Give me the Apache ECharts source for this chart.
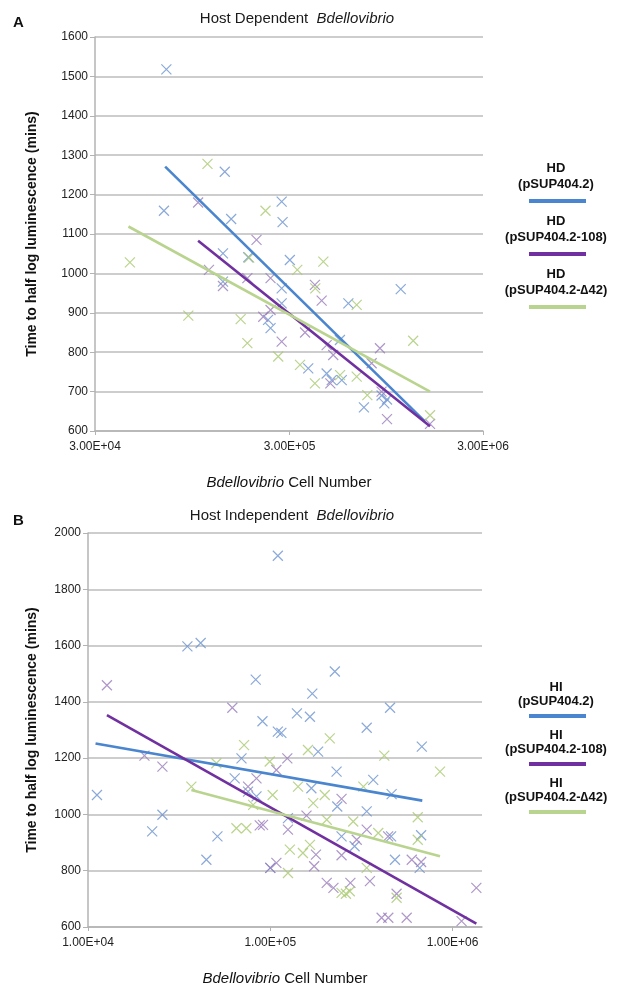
<!DOCTYPE html>
<html>
<head>
<meta charset="utf-8">
<script src="https://cdn.jsdelivr.net/npm/echarts@6/dist/echarts.min.js"></script>
<style>
  html, body { margin: 0; padding: 0; background: #fff; }
  #chart { width: 619px; height: 987px; }
</style>
</head>
<body>
<div id="chart"></div>
<script>
// panel A : host dependent, [cell number, minutes]
var hdBlue = [[7.0e4, 1518], [1.40e5, 1258], [6.8e4, 1159], [1.51e5, 1138], [2.75e5, 1182], [2.78e5, 1130],
  [1.37e5, 1051], [1.37e5, 979], [1.85e5, 1041], [3.03e5, 1034], [2.75e5, 962], [2.75e5, 924], [6.07e5, 924],
  [1.13e6, 960], [2.34e5, 882], [2.41e5, 861], [5.49e5, 831], [3.77e5, 759], [4.69e5, 746], [4.98e5, 729],
  [5.61e5, 729], [7.3e5, 660], [9.0e5, 690], [9.6e5, 680], [9.3e5, 670]];
var hdPurple = [[1.02e5, 1180], [2.04e5, 1085], [1.16e5, 1009], [1.37e5, 968], [1.83e5, 988], [2.41e5, 988],
  [2.21e5, 890], [2.41e5, 907], [2.75e5, 827], [4.08e5, 971], [4.42e5, 931], [3.63e5, 850], [4.69e5, 818],
  [5.07e5, 793], [4.9e5, 721], [8.83e5, 810], [8.0e5, 772], [9.0e5, 700], [9.6e5, 630], [1.6e6, 618]];
var hdGreen = [[1.14e5, 1278], [2.27e5, 1159], [4.54e4, 1028], [9.08e4, 893], [1.69e5, 884], [1.83e5, 823],
  [1.87e5, 1040], [2.64e5, 789], [3.31e5, 1009], [4.51e5, 1030], [4.1e5, 962], [6.7e5, 920], [3.42e5, 768],
  [4.08e5, 721], [5.5e5, 742], [6.7e5, 738], [1.31e6, 829], [7.6e5, 691], [1.6e6, 640]];
var hdBlueFit = [[6.9e4, 1271], [1.5e6, 625]];
var hdPurpleFit = [[1.02e5, 1083], [1.6e6, 612]];
var hdGreenFit = [[4.46e4, 1119], [1.6e6, 700]];

// panel B : host independent
var hiBlue = [[1.10e5, 1919], [3.51e4, 1597], [4.15e4, 1609], [8.32e4, 1479], [9.06e4, 1331], [1.10e5, 1294],
  [1.12e4, 1069], [2.25e4, 940], [2.56e4, 999], [4.46e4, 839], [5.13e4, 922], [6.38e4, 1128], [6.95e4, 1199],
  [7.55e4, 1081], [8.4e4, 1064], [2.26e5, 1508], [1.70e5, 1429], [1.40e5, 1359], [1.65e5, 1347], [1.15e5, 1290],
  [3.38e5, 1308], [4.54e5, 1379], [6.78e5, 1241], [1.83e5, 1223], [2.31e5, 1152], [3.67e5, 1123], [1.68e5, 1093],
  [4.63e5, 1072], [2.33e5, 1028], [3.38e5, 1011], [1.25e5, 987], [4.6e5, 922], [6.72e5, 926], [2.46e5, 922],
  [2.9e5, 887], [4.83e5, 839], [6.6e5, 810], [1.0e5, 810]];
var hiPurple = [[1.27e4, 1459], [6.19e4, 1379], [2.04e4, 1209], [2.56e4, 1170], [7.55e4, 1099], [8.4e4, 1128],
  [8.75e4, 961], [1.0e5, 810], [1.08e5, 828], [1.08e5, 1158], [1.24e5, 1199], [2.46e5, 1055], [1.58e5, 996],
  [9.12e4, 963], [1.25e5, 946], [3.38e5, 946], [4.43e5, 922], [2.98e5, 910], [1.78e5, 857], [2.46e5, 855],
  [5.97e5, 839], [6.72e5, 831], [1.74e5, 816], [3.52e5, 763], [2.04e5, 757], [2.22e5, 739], [2.75e5, 757],
  [4.93e5, 718], [4.08e5, 633], [4.44e5, 633], [5.6e5, 633], [1.12e6, 621], [1.35e6, 739]];
var hiGreen = [[7.18e4, 1246], [3.69e4, 1099], [5.06e4, 1182], [6.52e4, 951], [7.39e4, 951], [8.05e4, 1034],
  [9.93e4, 1188], [1.03e5, 1069], [2.12e5, 1270], [1.61e5, 1229], [4.22e5, 1209], [8.53e5, 1152], [3.24e5, 1099],
  [1.42e5, 1099], [1.99e5, 1069], [1.72e5, 1040], [6.44e5, 990], [2.04e5, 981], [2.85e5, 975], [3.91e5, 934],
  [6.44e5, 910], [1.65e5, 892], [1.28e5, 875], [1.51e5, 863], [1.25e5, 792], [2.46e5, 721], [2.73e5, 727],
  [2.6e5, 718], [4.93e5, 704], [3.38e5, 810]];
var hiBlueFit = [[1.10e4, 1252], [6.82e5, 1049]];
var hiPurpleFit = [[1.27e4, 1353], [1.35e6, 612]];
var hiGreenFit = [[3.69e4, 1087], [8.53e5, 851]];

var hdNames = ['HD\n(pSUP404.2)', 'HD\n(pSUP404.2-108)', 'HD\n(pSUP404.2-\u220642)'];
var hiNames = ['HI\n(pSUP404.2)', 'HI\n(pSUP404.2-108)', 'HI\n(pSUP404.2-\u220642)'];

var markColors = ['#6d93cf', '#9a7dbb', '#a9c970'];
var lineColors = ['#4a85cf', '#7030a0', '#b9d48f'];

var chart = echarts.init(document.getElementById('chart'));
var font = 'Liberation Sans';
var cross = 'path://M0,0L10,10M10,0L0,10';

// excel style 3.00E+05
function sci(v) {
  var e = Math.floor(Math.log10(v) + 1e-6);
  var m = Math.round(v / Math.pow(10, e));
  return m.toFixed(2) + 'E+' + (e < 10 ? '0' : '') + e;
}

function xAxisFor(gi, min, max) {
  return {
    type: 'log', logBase: 10, gridIndex: gi, min: min, max: max, interval: 1,
    axisLine: { lineStyle: { color: '#b3b3b3', width: 1.5 } },
    axisTick: { show: true, length: 4, lineStyle: { color: '#b3b3b3' } },
    splitLine: { show: false },
    minorTick: { show: false },
    axisLabel: { color: '#222', fontFamily: font, fontSize: 12, margin: 10, showMaxLabel: gi === 0, formatter: sci },
    name: '{i|Bdellovibrio} Cell Number',
    nameLocation: 'middle', nameGap: 44,
    nameTextStyle: { fontFamily: font, fontSize: 15, color: '#111',
      rich: { i: { fontStyle: 'italic', fontFamily: font, fontSize: 15, color: '#111' } } }
  };
}

function yAxisFor(gi, min, max, step, gap) {
  return {
    type: 'value', gridIndex: gi, min: min, max: max, interval: step,
    axisLine: { show: true, lineStyle: { color: '#b3b3b3', width: 1.5 } },
    axisTick: { show: true, length: 5, lineStyle: { color: '#b3b3b3' } },
    splitLine: { lineStyle: { color: '#bdbdbd', width: 1.5 } },
    axisLabel: { color: '#222', fontFamily: font, fontSize: 12, margin: 7, formatter: function (v) { return String(v); } },
    name: 'Time to half log luminescence (mins)',
    nameLocation: 'middle', nameGap: gap,
    nameTextStyle: { fontFamily: font, fontSize: 14, fontWeight: 'bold', color: '#111' }
  };
}

function marks(data, c, xi) {
  return {
    type: 'scatter', xAxisIndex: xi, yAxisIndex: xi, data: data,
    symbol: cross, symbolSize: 10, z: 2,
    itemStyle: { color: 'none', borderColor: c, borderWidth: 1.2 }
  };
}

function fit(data, c, xi) {
  return {
    type: 'line', xAxisIndex: xi, yAxisIndex: xi, data: data,
    symbol: 'none', z: 3, silent: true,
    lineStyle: { color: c, width: 2.6 }
  };
}

function legendBlock(names, top, step, size, lh, lineOff) {
  var els = [];
  names.forEach(function (n, k) {
    var y = top + k * step;
    els.push({ type: 'text', x: 556, y: y, style: { text: n, fill: '#111', font: 'bold ' + size + 'px ' + font, align: 'center', lineHeight: lh } });
    els.push({ type: 'rect', x: 529, y: y + lineOff, shape: { width: 57, height: 4 }, style: { fill: lineColors[k] } });
  });
  return els;
}

var option = {
  animation: false,
  title: [
    { text: 'Host Dependent  {i|Bdellovibrio}', left: 292, top: 6, textAlign: 'center',
      textStyle: { fontFamily: font, fontSize: 15, fontWeight: 'normal', color: '#1a1a1a',
        rich: { i: { fontStyle: 'italic', fontFamily: font, fontSize: 15, color: '#1a1a1a' } } } },
    { text: 'Host Independent  {i|Bdellovibrio}', left: 287, top: 503, textAlign: 'center',
      textStyle: { fontFamily: font, fontSize: 15, fontWeight: 'normal', color: '#1a1a1a',
        rich: { i: { fontStyle: 'italic', fontFamily: font, fontSize: 15, color: '#1a1a1a' } } } },
    { text: 'A', left: 8, top: 10, textStyle: { fontFamily: font, fontSize: 15, fontWeight: 'bold', color: '#111' } },
    { text: 'B', left: 8, top: 508, textStyle: { fontFamily: font, fontSize: 15, fontWeight: 'bold', color: '#111' } }
  ],
  grid: [
    { left: 95, top: 37, width: 388, height: 394 },
    { left: 88, top: 533, width: 394, height: 396 }
  ],
  xAxis: [xAxisFor(0, 3e4, 3e6), xAxisFor(1, 1e4, 1.45e6)],
  yAxis: [yAxisFor(0, 600, 1600, 100, 56), yAxisFor(1, 600, 2000, 200, 49)],
  series: [
    marks(hdBlue, markColors[0], 0), marks(hdPurple, markColors[1], 0), marks(hdGreen, markColors[2], 0),
    fit(hdBlueFit, lineColors[0], 0), fit(hdPurpleFit, lineColors[1], 0), fit(hdGreenFit, lineColors[2], 0),
    marks(hiBlue, markColors[0], 1), marks(hiPurple, markColors[1], 1), marks(hiGreen, markColors[2], 1),
    fit(hiBlueFit, lineColors[0], 1), fit(hiPurpleFit, lineColors[1], 1), fit(hiGreenFit, lineColors[2], 1)
  ],
  graphic: legendBlock(hdNames, 161, 53, 13, 15.5, 38).concat(legendBlock(hiNames, 680, 48, 13, 14.5, 34))
};

chart.setOption(option);
</script>
</body>
</html>
